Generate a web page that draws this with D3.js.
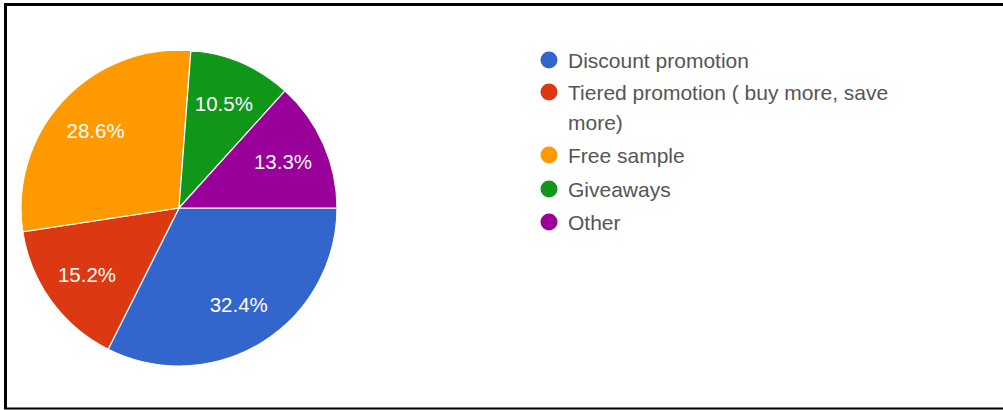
<!DOCTYPE html>
<html>
<head>
<meta charset="utf-8">
<script src="https://cdn.jsdelivr.net/npm/d3@7"></script>
<style>
  html, body { margin: 0; padding: 0; background: #fff; }
  svg { display: block; }
</style>
</head>
<body>
<svg id="chart" width="1003" height="410"></svg>
<script>
// Survey answers: preferred promotion type
const categories = ["Discount promotion", "Tiered promotion ( buy more, save more)", "Free sample", "Giveaways", "Other"];
const legendLines = [["Discount promotion"], ["Tiered promotion ( buy more, save", "more)"], ["Free sample"], ["Giveaways"], ["Other"]];
const shares = [32.4, 15.2, 28.6, 10.5, 13.3];
const colors = ["#3366cc", "#dc3912", "#ff9900", "#109618", "#990099"];

const svg = d3.select("#chart");
const W = 1003, H = 410;
const font = "'Liberation Sans', Arial, sans-serif";

// Frame: left, top and bottom edges
svg.append("path")
  .attr("d", `M5.5,${H - 1} L5.5,4.5 L${W},4.5`)
  .attr("fill", "none").attr("stroke", "#000").attr("stroke-width", 3);
svg.append("line")
  .attr("x1", 4).attr("x2", W).attr("y1", 408.5).attr("y2", 408.5)
  .attr("stroke", "#000").attr("stroke-width", 2);

// Visible chart area (cropped at top and left)
svg.append("clipPath").attr("id", "area")
  .append("rect").attr("x", 19).attr("y", 51).attr("width", 960).attr("height", 340);

const cx = 179, cy = 208, r = 158;
const pie = d3.pie().sort(null).value(d => d)
  .startAngle(Math.PI / 2).endAngle(Math.PI / 2 + 2 * Math.PI);
const arcs = pie(shares);
const arc = d3.arc().innerRadius(0).outerRadius(r);
const labelArc = d3.arc().innerRadius(r * 0.72).outerRadius(r * 0.72);

const g = svg.append("g").attr("clip-path", "url(#area)")
  .append("g").attr("transform", `translate(${cx},${cy})`);

g.selectAll("path.slice").data(arcs).join("path")
  .attr("class", "slice")
  .attr("d", arc)
  .attr("fill", (d, i) => colors[i])
  .attr("stroke", "#fff").attr("stroke-width", 1.2);

g.selectAll("text.pct").data(arcs).join("text")
  .attr("class", "pct")
  .attr("transform", d => `translate(${labelArc.centroid(d)})`)
  .attr("text-anchor", "middle").attr("dy", "0.36em")
  .attr("fill", "#fff")
  .attr("font-family", font).attr("font-size", 20.5)
  .text(d => d.data.toFixed(1) + "%");

// Legend
const legendX = 549;
const rowY = [60, 92, 155, 189, 222];
const lineGap = 30;
const leg = svg.append("g").attr("clip-path", "url(#area)");
categories.forEach((c, i) => {
  const row = leg.append("g");
  row.append("circle").attr("cx", legendX).attr("cy", rowY[i]).attr("r", 8.5).attr("fill", colors[i]);
  const t = row.append("text")
    .attr("x", legendX + 19).attr("y", rowY[i])
    .attr("fill", "#555")
    .attr("font-family", font).attr("font-size", 21);
  legendLines[i].forEach((line, j) => {
    t.append("tspan").attr("x", legendX + 19).attr("dy", j === 0 ? "0.36em" : lineGap).text(line);
  });
});
</script>
</body>
</html>
